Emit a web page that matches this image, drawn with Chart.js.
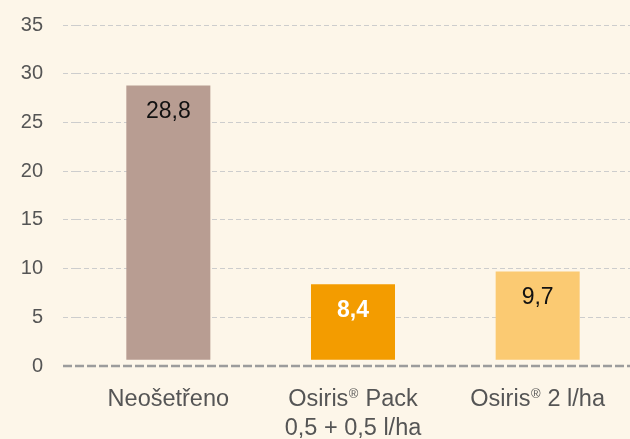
<!DOCTYPE html>
<html>
<head>
<meta charset="utf-8">
<script src="https://cdn.jsdelivr.net/npm/chart.js@4"></script>
<style>
  html, body { margin: 0; padding: 0; background: #fdf6e9; }
  canvas { display: block; }
</style>
</head>
<body>
<canvas id="chart" width="630" height="439"></canvas>
<script>
// data
const categories = [['Neošetřeno'], ['Osiris® Pack', '0,5 + 0,5 l/ha'], ['Osiris® 2 l/ha']];
const values = [28.8, 8.4, 9.7];
const valueLabels = ['28,8', '8,4', '9,7'];
const yMin = 0, yMax = 35, yStep = 5;

const barColors = ['#b89d92', '#f39c00', '#fbca72'];
const labelColors = ['#111111', '#ffffff', '#111111'];
const labelBold = [false, true, false];
const FONT = '"Liberation Sans", Arial, Helvetica, sans-serif';

// dashed zero line, thicker and darker than the grid
const zeroLine = {
  id: 'zeroLine',
  beforeDatasetsDraw(chart) {
    const ctx = chart.ctx;
    const y = chart.scales.y.getPixelForValue(0);
    ctx.save();
    ctx.strokeStyle = '#9c9c9c';
    ctx.lineWidth = 2.5;
    ctx.setLineDash([9, 3]);
    ctx.beginPath();
    ctx.moveTo(chart.chartArea.left - 13, y);
    ctx.lineTo(chart.width, y);
    ctx.stroke();
    ctx.restore();
  }
};

// value labels inside the bars
const barLabels = {
  id: 'barLabels',
  afterDatasetsDraw(chart) {
    const ctx = chart.ctx;
    const meta = chart.getDatasetMeta(0);
    ctx.save();
    ctx.textAlign = 'center';
    ctx.textBaseline = 'alphabetic';
    meta.data.forEach((bar, i) => {
      ctx.font = (labelBold[i] ? 'bold ' : '') + '23px ' + FONT;
      ctx.fillStyle = labelColors[i];
      ctx.fillText(valueLabels[i], bar.x, bar.y + 33);
    });
    ctx.restore();
  }
};

// category labels, with the ® drawn as a small superscript
const categoryLabels = {
  id: 'categoryLabels',
  afterDraw(chart) {
    const ctx = chart.ctx;
    const xScale = chart.scales.x;
    const base = chart.chartArea.bottom;
    const main = '23.5px ' + FONT, sup = '13px ' + FONT;
    ctx.save();
    ctx.fillStyle = '#555555';
    ctx.textBaseline = 'alphabetic';
    ctx.textAlign = 'left';
    categories.forEach((lines, i) => {
      const cx = xScale.getPixelForTick(i);
      lines.forEach((line, j) => {
        const parts = line.split('®');
        let w = 0;
        parts.forEach((p, k) => {
          ctx.font = main; w += ctx.measureText(p).width;
          if (k < parts.length - 1) { ctx.font = sup; w += ctx.measureText('®').width + 1; }
        });
        let x = cx - w / 2;
        const y = base + 40 + j * 29;
        parts.forEach((p, k) => {
          ctx.font = main;
          ctx.fillText(p, x, y);
          x += ctx.measureText(p).width;
          if (k < parts.length - 1) {
            ctx.font = sup;
            ctx.fillText('®', x + 0.5, y - 8);
            x += ctx.measureText('®').width + 1;
          }
        });
      });
    });
    ctx.restore();
  }
};

const gridColor = c => (c.tick && c.tick.value === 0) ? 'rgba(0,0,0,0)' : '#cdcdcd';

new Chart(document.getElementById('chart'), {
  type: 'bar',
  data: {
    labels: categories,
    datasets: [{
      data: values,
      backgroundColor: barColors,
      borderWidth: 0,
      base: 0.65,
      categoryPercentage: 1,
      barPercentage: 0.455
    }]
  },
  options: {
    responsive: false,
    animation: false,
    layout: { padding: { top: 25, right: 0, left: 0, bottom: 0 } },
    plugins: { legend: { display: false }, tooltip: { enabled: false } },
    scales: {
      x: {
        grid: { display: false },
        border: { display: false },
        ticks: { display: false },
        afterFit(scale) { scale.height = 73; }
      },
      y: {
        min: yMin,
        max: yMax,
        border: { display: false, dash: [5, 3] },
        grid: {
          color: gridColor,
          tickColor: gridColor,
          tickLength: 13,
          tickBorderDash: [5, 3],
          lineWidth: 1
        },
        ticks: {
          stepSize: yStep,
          color: '#555555',
          padding: 20,
          font: { family: FONT, size: 20 }
        },
        afterFit(scale) { scale.width = 76; scale.paddingTop = 0; }
      }
    }
  },
  plugins: [zeroLine, barLabels, categoryLabels]
});
</script>
</body>
</html>
